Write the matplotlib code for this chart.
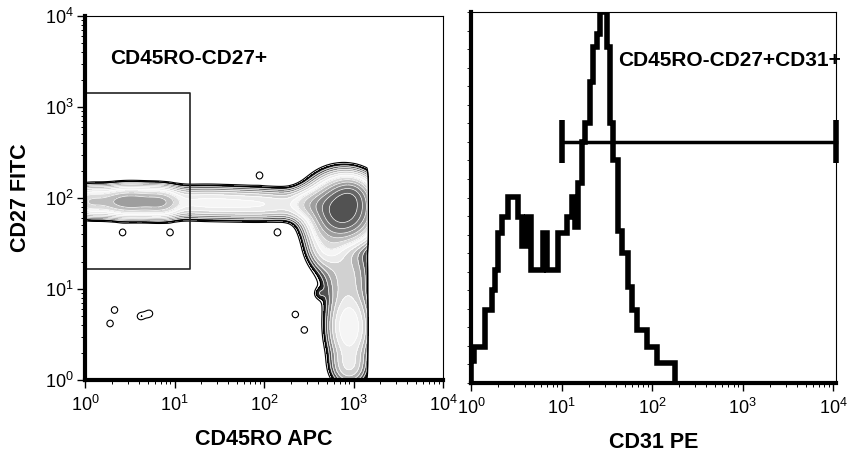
import numpy as np
import matplotlib
matplotlib.use("Agg")
import matplotlib.pyplot as plt
from matplotlib.colors import ListedColormap, BoundaryNorm
from matplotlib.ticker import LogLocator, MultipleLocator, NullFormatter

plt.rcParams['font.family'] = ['Liberation Sans', 'DejaVu Sans']
plt.rcParams['mathtext.fontset'] = 'custom'
plt.rcParams['mathtext.rm'] = 'Liberation Sans'
plt.rcParams['mathtext.it'] = 'Liberation Sans:italic'
plt.rcParams['mathtext.bf'] = 'Liberation Sans:bold'

# ---------------- Left panel: CD45RO APC vs CD27 FITC populations (log10 units) ----------------
pop_logx = [0.05, 0.50, 0.85, 1.30, 2.00, 2.55, 2.88, 2.97, 2.72, 2.92, 2.95, 2.95]
pop_logy = [1.96, 1.96, 1.95, 1.95, 1.93, 1.93, 1.86, 2.02, 1.50, 1.15, 0.58, 0.15]
pop_sdx  = [0.12, 0.22, 0.12, 0.35, 0.35, 0.14, 0.17, 0.11, 0.12, 0.15, 0.12, 0.11]
pop_sdy  = [0.08, 0.08, 0.08, 0.085, 0.085, 0.09, 0.16, 0.10, 0.15, 0.22, 0.21, 0.12]
pop_w    = [0.12, 0.30, 0.15, 0.07, 0.06, 0.12, 1.00, 0.30, 0.08, 0.035, 0.10, 0.04]
# scattered rare events (log10 x, log10 y)
rare_logx = [0.33, 0.28, 0.72, 0.62, 2.35, 2.45, 2.60, 1.95, 0.42, 0.95, 2.15, 2.62]
rare_logy = [0.77, 0.62, 0.73, 0.70, 0.72, 0.55, 1.60, 2.25, 1.62, 1.62, 1.62, 0.95]
saturation_logx = 3.15

gate_x = [1.0, 15.0]
gate_y = [16.6, 1420.0]

# ---------------- Right panel: CD31 PE histogram ----------------
hist_log_edges = [0.000, 0.033, 0.155, 0.232, 0.265, 0.298, 0.343, 0.409, 0.519, 0.564,
                  0.619, 0.663, 0.796, 0.840, 0.961, 1.061, 1.116, 1.149, 1.182, 1.227,
                  1.260, 1.315, 1.348, 1.392, 1.425, 1.503, 1.536, 1.569, 1.624, 1.669,
                  1.735, 1.779, 1.834, 1.945, 2.055, 2.254]
hist_counts = [6.0, 9.7, 19.7, 25.0, 30.5, 40.4, 44.7, 50.1, 44.7, 37.0,
               44.7, 30.5, 40.4, 30.5, 40.4, 44.7, 50.1, 42.0, 54.0, 65.0,
               70.0, 81.0, 90.6, 94.0, 100.0, 90.6, 70.0, 60.0, 41.0, 35.0,
               26.0, 19.7, 14.3, 9.7, 5.4]
marker_range = [10.0, 10 ** 4.03]
marker_level = 65.0

W, H = 847, 459
fig = plt.figure(figsize=(W / 100, H / 100), dpi=100)

# ---- left axes ----
ax1 = fig.add_axes([85 / W, 1 - 380 / H, 358 / W, 364 / H])
gx = np.linspace(0, 4, 241)
gy = np.linspace(0, 4, 241)
GX, GY = np.meshgrid(gx, gy)
dens = np.zeros_like(GX)
for mx, my, sx, sy, w in zip(pop_logx, pop_logy, pop_sdx, pop_sdy, pop_w):
    dens += w * np.exp(-0.5 * (((GX - mx) / sx) ** 2 + ((GY - my) / sy) ** 2))
for rx, ry in zip(rare_logx, rare_logy):
    dens += 0.006 * np.exp(-0.5 * (((GX - rx) / 0.045) ** 2 + ((GY - ry) / 0.045) ** 2))
dens[GX > saturation_logx] = 0
dens /= dens.max()

levels = np.concatenate([np.logspace(-2.4, 0, 15)[:-1], [1.01]])
grays = [1.00, 0.15, 0.32, 0.52, 0.70, 0.82, 0.92, 0.96, 0.86, 0.74, 0.62, 0.50, 0.40, 0.32]
cmap = ListedColormap([(g, g, g) for g in grays])
norm = BoundaryNorm(levels, cmap.N)
X = 10 ** GX
Y = 10 ** GY
ax1.contourf(X, Y, dens, levels=levels, cmap=cmap, norm=norm)
ax1.contour(X, Y, dens, levels=levels[2:-1], colors='white', linewidths=0.5)
ax1.contour(X, Y, dens, levels=levels[:2], colors='black', linewidths=0.8)

ax1.plot([gate_x[0], gate_x[1], gate_x[1], gate_x[0]],
         [gate_y[0], gate_y[0], gate_y[1], gate_y[1]], color='#222222', lw=1.2,
         clip_on=False)

ax1.set_xscale('log')
ax1.set_yscale('log')
ax1.set_xlim(1, 1e4)
ax1.set_ylim(1, 1e4)
ax1.text(10 ** 0.28, 10 ** 3.53, 'CD45RO-CD27+', fontsize=15, fontweight='bold',
         va='center', ha='left')
ax1.set_xlabel('CD45RO APC', fontsize=15.5, fontweight='bold', labelpad=10)
ax1.set_ylabel('CD27 FITC', fontsize=15.5, fontweight='bold', labelpad=10)

# ---- right axes ----
ax2 = fig.add_axes([471 / W, 1 - 383 / H, 365 / W, 371 / H])
ax2.stairs(hist_counts, [10 ** e for e in hist_log_edges], color='black', lw=4,
           baseline=0)
ax2.set_xscale('log')
ax2.set_xlim(1, 10 ** (365 / 90.5))
ax2.set_ylim(0, 100)
ax2.plot(marker_range, [marker_level, marker_level], color='black', lw=2.5, clip_on=False)
for xm in marker_range:
    ax2.plot([xm, xm], [59.3, 70.9], color='black', lw=4, clip_on=False,
             solid_capstyle='butt')
ax2.text(10 ** 1.63, 87, 'CD45RO-CD27+CD31+', fontsize=15, fontweight='bold',
         va='center', ha='left', clip_on=False)
ax2.set_xlabel('CD31 PE', fontsize=15.5, fontweight='bold', labelpad=10)
ax2.yaxis.set_major_locator(MultipleLocator(5))
ax2.set_yticklabels([])
ax2.tick_params(axis='y', which='major', length=3, width=0.6, direction='out')

for ax in (ax1, ax2):
    ax.xaxis.set_major_locator(LogLocator(base=10, numticks=10))
    ax.xaxis.set_minor_locator(LogLocator(base=10, subs=np.arange(2, 10), numticks=20))
    ax.xaxis.set_minor_formatter(NullFormatter())
    ax.tick_params(axis='x', which='major', length=6, width=1.0, labelsize=13, pad=5)
    ax.tick_params(axis='x', which='minor', length=3, width=0.7)
    ax.spines['left'].set_linewidth(3)
    ax.spines['bottom'].set_linewidth(3)
    ax.spines['top'].set_linewidth(0.8)
    ax.spines['right'].set_linewidth(0.8)

ax1.yaxis.set_major_locator(LogLocator(base=10, numticks=10))
ax1.yaxis.set_minor_locator(LogLocator(base=10, subs=np.arange(2, 10), numticks=20))
ax1.yaxis.set_minor_formatter(NullFormatter())
ax1.tick_params(axis='y', which='major', length=6, width=1.0, labelsize=13, pad=2)
ax1.tick_params(axis='y', which='minor', length=3, width=0.7)

fig.savefig('out.png', dpi=100)
